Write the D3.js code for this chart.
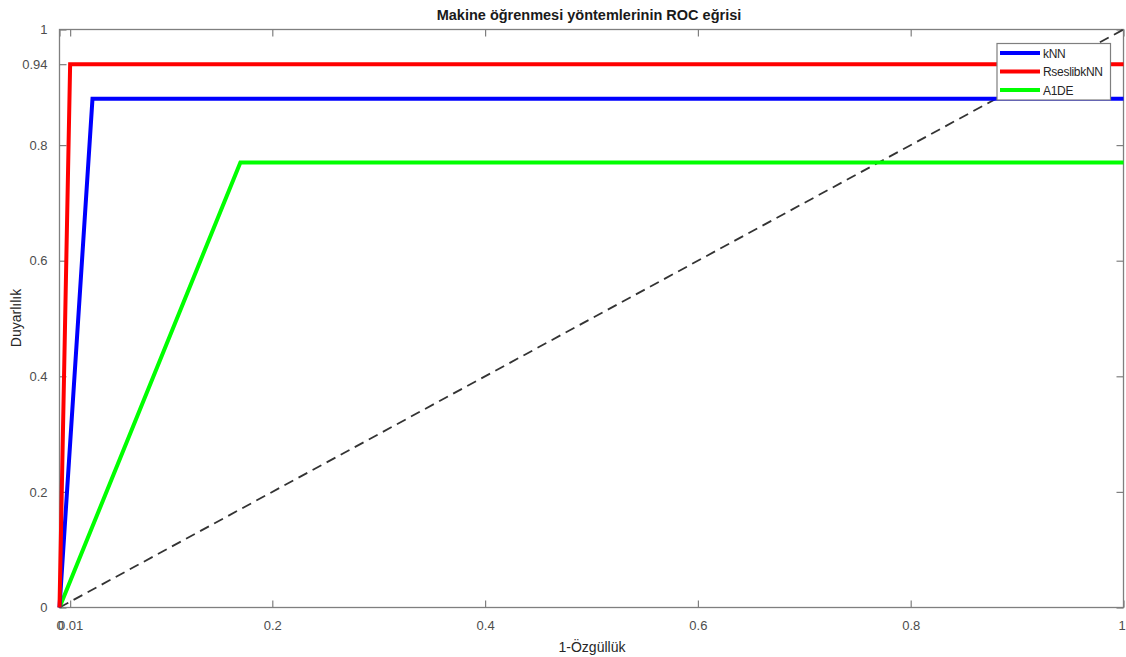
<!DOCTYPE html>
<html><head><meta charset="utf-8">
<script src="https://cdn.jsdelivr.net/npm/d3@7"></script>
<style>
body{margin:0;background:#fff;}
text{font-family:"Liberation Sans",Arial,sans-serif;}
</style></head>
<body>
<svg id="c" width="1126" height="657"></svg>
<script>
const seriesNames = ["kNN", "RseslibkNN", "A1DE"];
const seriesColors = ["#0000ff", "#ff0000", "#00ff00"];
const knnPoints = [[0,0],[0.031,0.88],[1,0.88]];
const rseslibPoints = [[0,0],[0.01,0.94],[1,0.94]];
const a1dePoints = [[0,0],[0.17,0.77],[1,0.77]];
const diagonal = [[0,0],[1,1]];
const xTicks = [0, 0.01, 0.2, 0.4, 0.6, 0.8, 1];
const yTicks = [0, 0.2, 0.4, 0.6, 0.8, 0.94, 1];
const titleText = "Makine öğrenmesi yöntemlerinin ROC eğrisi";
const xLabel = "1-Özgüllük";
const yLabel = "Duyarlılık";

const svg = d3.select("#c");
const L = 59.5, R = 1123.5, T = 29.5, B = 607.5;
const x = d3.scaleLinear().domain([0,1]).range([L,R]);
const y = d3.scaleLinear().domain([0,1]).range([B,T]);
const axisColor = "#7f7f7f", textColor = "#4d4d4d";
const fmt = d => String(d);

svg.append("rect").attr("x",L).attr("y",T).attr("width",R-L).attr("height",B-T)
  .attr("fill","none").attr("stroke",axisColor).attr("stroke-width",1.3);

const tk = 7;
const gxb = svg.append("g").attr("transform",`translate(0,${B})`)
  .call(d3.axisBottom(x).tickValues(xTicks).tickSize(-tk).tickPadding(tk+6).tickFormat(fmt));
const gxt = svg.append("g").attr("transform",`translate(0,${T})`)
  .call(d3.axisTop(x).tickValues(xTicks).tickSize(-tk).tickFormat(""));
const gyl = svg.append("g").attr("transform",`translate(${L},0)`)
  .call(d3.axisLeft(y).tickValues(yTicks).tickSize(-tk).tickPadding(tk+5).tickFormat(fmt));
const gyr = svg.append("g").attr("transform",`translate(${R},0)`)
  .call(d3.axisRight(y).tickValues(yTicks).tickSize(-tk).tickFormat(""));
[gxb,gxt,gyl,gyr].forEach(g=>{
  g.select(".domain").remove();
  g.selectAll(".tick line").attr("stroke",axisColor).attr("stroke-width",1.2);
  g.selectAll("text").attr("fill",textColor).style("font-size","13px")
    .style("font-family",'"Liberation Sans",Arial,sans-serif');
});
// keep the last x label inside the window
gxb.selectAll(".tick text").filter(d=>d===1).attr("dx","-2");

const line = d3.line().x(d=>x(d[0])).y(d=>y(d[1]));
svg.append("path").datum(diagonal).attr("d",line).attr("fill","none")
  .attr("stroke","#333333").attr("stroke-width",1.8).attr("stroke-dasharray","10,6");

const seriesData = [knnPoints, rseslibPoints, a1dePoints];
const order = [2,0,1];
order.forEach(i=>{
  svg.append("path").datum(seriesData[i]).attr("d",line).attr("fill","none")
    .attr("stroke",seriesColors[i]).attr("stroke-width",4).attr("stroke-linejoin","miter");
});

const lg = svg.append("g");
lg.append("rect").attr("x",997).attr("y",43.5).attr("width",113.5).attr("height",56.5)
  .attr("fill","#fff").attr("stroke",axisColor).attr("stroke-width",1.2);
seriesNames.forEach((n,i)=>{
  const yy = 53 + i*18.5;
  lg.append("line").attr("x1",1000).attr("x2",1040).attr("y1",yy).attr("y2",yy)
    .attr("stroke",seriesColors[i]).attr("stroke-width",4);
  lg.append("text").attr("x",1043).attr("y",yy+4.5).text(n)
    .attr("fill","#262626").style("font-size","12px").style("letter-spacing","-0.3px");
});

svg.append("text").attr("x",589).attr("y",20).attr("text-anchor","middle")
  .style("font-weight","bold").style("font-size","14.5px").attr("fill","#1a1a1a").text(titleText);
svg.append("text").attr("x",592).attr("y",652).attr("text-anchor","middle")
  .style("font-size","14px").attr("fill","#262626").text(xLabel);
svg.append("text").attr("transform","translate(21,318) rotate(-90)").attr("text-anchor","middle")
  .style("font-size","14px").attr("fill","#262626").text(yLabel);
</script>
</body></html>
